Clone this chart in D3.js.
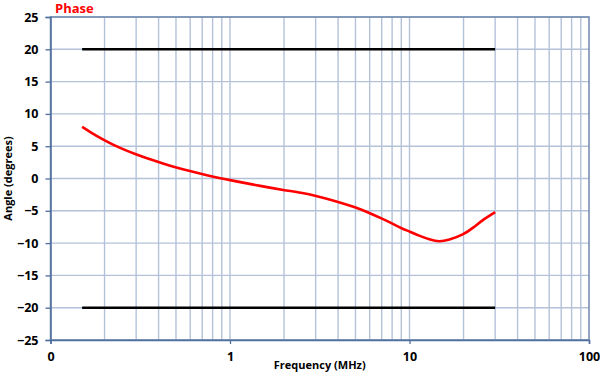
<!DOCTYPE html>
<html>
<head>
<meta charset="utf-8">
<script src="https://cdn.jsdelivr.net/npm/d3@7"></script>
<style>
  body { margin: 0; background: #fff; }
  text { font-family: "Open Sans", "Liberation Sans", sans-serif; font-weight: bold; }
</style>
</head>
<body>
<svg id="chart" width="600" height="373"></svg>
<script>
// phase curve
var freq  = [0.15, 0.166, 0.2, 0.244, 0.3, 0.4, 0.5, 0.6, 0.7, 0.8, 0.9, 1, 1.5, 2, 2.5, 3, 4, 5, 6, 7, 8, 9, 10, 11.4, 13.1, 14.6, 16.5, 20, 22.7, 25.9, 30];
var phase = [8, 7.2, 5.9, 4.7, 3.7, 2.55, 1.7, 1.15, 0.7, 0.3, 0, -0.25, -1.2, -1.8, -2.2, -2.65, -3.6, -4.45, -5.35, -6.2, -6.95, -7.7, -8.2, -8.9, -9.5, -9.8, -9.55, -8.7, -7.6, -6.3, -5.2];
// limit lines
var limitFreq = [0.15, 30];
var limits = [20, -20];
var yTicks = [-25, -20, -15, -10, -5, 0, 5, 10, 15, 20, 25];
var xTicks = [0.1, 1, 10, 100];
var xTickLabels = ["0", "1", "10", "100"];

var svg = d3.select("#chart");
var mLeft = 50.5, mRight = 589, mTop = 17, mBottom = 340;

var x = d3.scaleLog().domain([0.1, 100]).range([mLeft, mRight]);
var y = d3.scaleLinear().domain([-25, 25]).range([mBottom, mTop]);

var grid = svg.append("g");
var minor = [];
[0.1, 1, 10].forEach(function(d){
    for (var k = 2; k <= 9; k++) minor.push(d * k);
});
minor.push(1, 10);
grid.selectAll("line.v").data(minor).enter().append("line")
    .attr("x1", function(d){ return x(d); })
    .attr("x2", function(d){ return x(d); })
    .attr("y1", mTop).attr("y2", mBottom)
    .attr("stroke", "#b3c2d8").attr("stroke-width", 1.4);
grid.selectAll("line.h").data(yTicks).enter().append("line")
    .attr("x1", mLeft).attr("x2", mRight)
    .attr("y1", function(d){ return y(d); })
    .attr("y2", function(d){ return y(d); })
    .attr("stroke", "#b3c2d8").attr("stroke-width", 1.4);

// frame
svg.append("rect")
    .attr("x", mLeft).attr("y", mTop)
    .attr("width", mRight - mLeft).attr("height", mBottom - mTop)
    .attr("fill", "none").attr("stroke", "#6f88ad").attr("stroke-width", 1.5);

// axes
var yAxis = d3.axisLeft(y).tickValues(yTicks).tickSize(5).tickPadding(7);
var gy = svg.append("g").attr("transform", "translate(" + mLeft + ",0)").call(yAxis);
var xAxis = d3.axisBottom(x).tickValues(xTicks).tickSize(4).tickPadding(8)
    .tickFormat(function(d, i){ return xTickLabels[i]; });
var gx = svg.append("g").attr("transform", "translate(0," + mBottom + ")").call(xAxis);
[gx, gy].forEach(function(g){
    g.select(".domain").attr("stroke", "#4f6f9f").attr("stroke-width", 1.5);
    g.selectAll(".tick line").attr("stroke", "#4f6f9f").attr("stroke-width", 1.3);
    g.selectAll(".tick text").attr("fill", "#000").style("font-size", "12.5px")
        .style("font-family", "'Open Sans', sans-serif").style("font-weight", "bold");
});

// limit lines
var line = d3.line().x(function(d){ return x(d[0]); }).y(function(d){ return y(d[1]); });
limits.forEach(function(v){
    svg.append("path")
        .datum(limitFreq.map(function(f){ return [f, v]; }))
        .attr("d", line)
        .attr("fill", "none").attr("stroke", "#000").attr("stroke-width", 2.5);
});

// phase curve
svg.append("path")
    .datum(freq.map(function(f, i){ return [f, phase[i]]; }))
    .attr("d", line.curve(d3.curveBasis))
    .attr("fill", "none").attr("stroke", "#ff0000").attr("stroke-width", 2.6)
    .attr("stroke-linejoin", "round");

svg.append("text")
    .attr("x", 55).attr("y", 13)
    .attr("fill", "#ff0000").style("font-size", "13px")
    .text("Phase");

svg.append("text")
    .attr("x", (mLeft + mRight) / 2).attr("y", 369)
    .attr("text-anchor", "middle").style("font-size", "11px").attr("fill", "#000")
    .text("Frequency (MHz)");

svg.append("text")
    .attr("transform", "translate(12," + ((mTop + mBottom) / 2) + ") rotate(-90)")
    .attr("text-anchor", "middle").style("font-size", "11px").attr("fill", "#000")
    .text("Angle (degrees)");
</script>
</body>
</html>
